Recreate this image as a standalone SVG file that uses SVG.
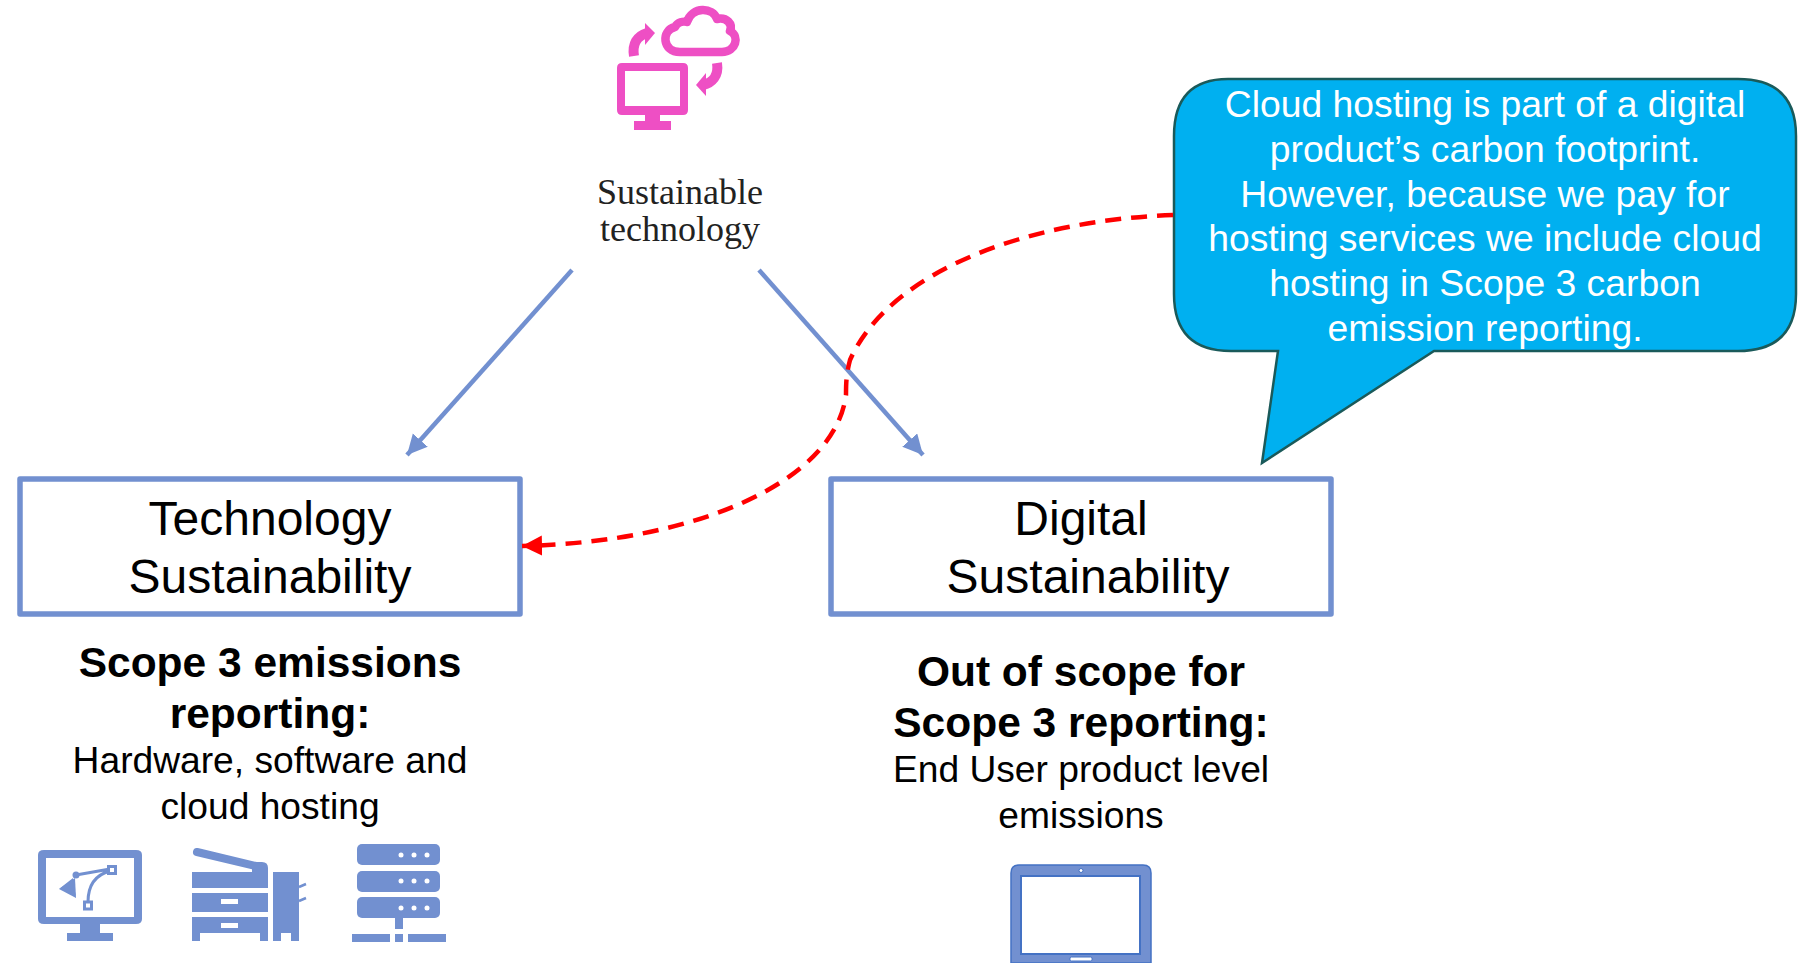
<svg xmlns="http://www.w3.org/2000/svg" width="1807" height="963" viewBox="0 0 1807 963">
<style>
text{font-family:"Liberation Sans",Arial,sans-serif;text-anchor:middle;fill:#000}
.box{fill:#fff;stroke:#7290d0;stroke-width:5.500;stroke-linejoin:round}
.b{font-size:42.500px;font-weight:bold}
.t{font-size:48px}
.s{font-size:37.200px}
.c{font-size:37.300px;fill:#fff}
.ser{font-family:"Liberation Serif",serif;font-size:36px;fill:#222}
.i{fill:#7290d0}
.p{fill:#ee4fc4}
</style>
<defs>
<marker id="ab" markerUnits="userSpaceOnUse" markerWidth="24" markerHeight="22" refX="20" refY="10" orient="auto"><path d="M0 0L20 10L0 20z" fill="#7290d0"/></marker>
<marker id="ar" markerUnits="userSpaceOnUse" markerWidth="24" markerHeight="22" refX="20" refY="10" orient="auto"><path d="M0 0L20 10L0 20z" fill="#f00"/></marker>
</defs>
<g id="connectors">
<path d="M572 270L407 455" stroke="#7290d0" stroke-width="4.500" fill="none" marker-end="url(#ab)"/>
<path d="M759 270L923 455" stroke="#7290d0" stroke-width="4.500" fill="none" marker-end="url(#ab)"/>
</g>
<g id="sustainable-technology">
<path class="p" fill-rule="evenodd" d="M622 63H683Q688 63 688 68V110Q688 115 683 115H622Q617 115 617 110V68Q617 63 622 63ZM625 71V106H680V71Z"/>
<rect class="p" x="645" y="115" width="15" height="6"/><rect class="p" x="634" y="121" width="37" height="9"/>
<path d="M680 52C662 52 661 30 675 27C678 22 683 21 687 22C692 6 713 7 717 19C727 17 733 24 730 31C740 36 736 52 722 52Z" fill="none" stroke="#ee4fc4" stroke-width="8.500" stroke-linejoin="round"/>
<path d="M634 56C632 44 637 36 647 33" fill="none" stroke="#ee4fc4" stroke-width="10"/><path class="p" d="M645 23L655 33L645 45Z"/>
<path d="M717 63C719 76 712 83 703 85" fill="none" stroke="#ee4fc4" stroke-width="10"/><path class="p" d="M706 73L696 85L706 96Z"/>
<text class="ser" x="680" y="204">Sustainable</text>
<text class="ser" x="680" y="241">technology</text>
</g>
<g id="technology-sustainability">
<rect class="box" x="20" y="479" width="500" height="135"/>
<text class="t" x="270" y="535">Technology</text>
<text class="t" x="270" y="593">Sustainability</text>
</g>
<g id="digital-sustainability">
<rect class="box" x="831" y="479" width="500" height="135"/>
<text class="t" x="1081" y="535">Digital</text>
<text class="t" x="1088" y="593">Sustainability</text>
</g>
<g id="callout">
<path d="M1228 79H1738Q1796 79 1796 136V294Q1796 351 1738 351H1434L1262 463L1278 351H1231Q1174 351 1174 294V136Q1174 79 1228 79Z" fill="#00b0f0" stroke="#1a5a5a" stroke-width="2.500"/>
<text class="c" x="1485" y="117">Cloud hosting is part of a digital</text>
<text class="c" x="1485" y="162">product’s carbon footprint.</text>
<text class="c" x="1485" y="207">However, because we pay for</text>
<text class="c" x="1485" y="251">hosting services we include cloud</text>
<text class="c" x="1485" y="296">hosting in Scope 3 carbon</text>
<text class="c" x="1485" y="341">emission reporting.</text>
</g>
<g id="red-connector">
<path d="M1173 215C1030 220 890 270 850 360C846 375 846 385 846 395C835 480 700 542 522 546" fill="none" stroke="#f00" stroke-width="4.500" stroke-dasharray="16 10" marker-end="url(#ar)"/>
</g>
<g id="scope-3-label">
<text class="b" x="270" y="677">Scope 3 emissions</text>
<text class="b" x="270" y="728">reporting:</text>
<text class="s" x="270" y="773">Hardware, software and</text>
<text class="s" x="270" y="819">cloud hosting</text>
</g>
<g id="out-of-scope-label">
<text class="b" x="1081" y="686">Out of scope for</text>
<text class="b" x="1081" y="737">Scope 3 reporting:</text>
<text class="s" x="1081" y="782">End User product level</text>
<text class="s" x="1081" y="828">emissions</text>
</g>
<g id="icon-monitor">
<path class="i" fill-rule="evenodd" d="M44 850H136Q142 850 142 855V919Q142 924 136 924H44Q38 924 38 919V855Q38 850 44 850ZM46 858V917H134V858Z"/>
<rect class="i" x="80" y="924" width="20" height="9"/><rect class="i" x="67" y="933" width="46" height="8"/>
<path class="i" d="M59 889L73 878L76 898L72 884Z"/><path class="i" d="M59 889L75 878L76 898Z"/><circle class="i" cx="76" cy="875" r="3.500"/>
<path d="M76 875L110 869M88 902C88 885 95 875 110 871" fill="none" stroke="#7290d0" stroke-width="3"/>
<rect x="108.500" y="866.500" width="7" height="7" fill="#fff" stroke="#7290d0" stroke-width="3"/><rect x="84.500" y="902" width="7" height="7" fill="#fff" stroke="#7290d0" stroke-width="3"/>
</g>
<g id="icon-printer">
<path d="M197 852L256 866" stroke="#7290d0" stroke-width="8" stroke-linecap="round"/>
<path class="i" d="M252 862H262Q268 862 268 868V888H192V872H252Z"/>
<path class="i" fill-rule="evenodd" d="M192 893H268V912H192ZM221 899V904H238V899Z"/>
<path class="i" fill-rule="evenodd" d="M192 917H268V941H260V933H200V941H192ZM221 923V928H238V923Z"/>
<path class="i" d="M273 872H299V941H291V933H281V941H273Z"/>
<path d="M299 887L306 884M299 901L306 898" stroke="#7290d0" stroke-width="2.500"/>
</g>
<g id="icon-server">
<rect class="i" x="357" y="844" width="83" height="21" rx="5"/><rect class="i" x="357" y="871" width="83" height="21" rx="5"/><rect class="i" x="357" y="897" width="83" height="21" rx="5"/>
<g fill="#fff"><circle cx="401" cy="855" r="2.500"/><circle cx="414" cy="855" r="2.500"/><circle cx="427" cy="855" r="2.500"/><circle cx="401" cy="881" r="2.500"/><circle cx="414" cy="881" r="2.500"/><circle cx="427" cy="881" r="2.500"/><circle cx="401" cy="908" r="2.500"/><circle cx="414" cy="908" r="2.500"/><circle cx="427" cy="908" r="2.500"/></g>
<rect class="i" x="395" y="918" width="8" height="11"/><rect class="i" x="352" y="934" width="38" height="8"/><rect class="i" x="395" y="934" width="8" height="8"/><rect class="i" x="408" y="934" width="38" height="8"/>
</g>
<g id="icon-tablet">
<path d="M1011 963V873Q1011 865 1019 865H1143Q1151 865 1151 873V963Z" fill="#7290d0" stroke="#4472c4" stroke-width="1.500"/>
<rect x="1021" y="876" width="119" height="78" fill="#fff" stroke="#4472c4" stroke-width="2"/>
<circle cx="1081" cy="870.500" r="2" fill="#fff" stroke="#4472c4"/>
<rect x="1070" y="957" width="22" height="4" rx="1.500" fill="#fff" stroke="#4472c4"/>
</g>
</svg>
